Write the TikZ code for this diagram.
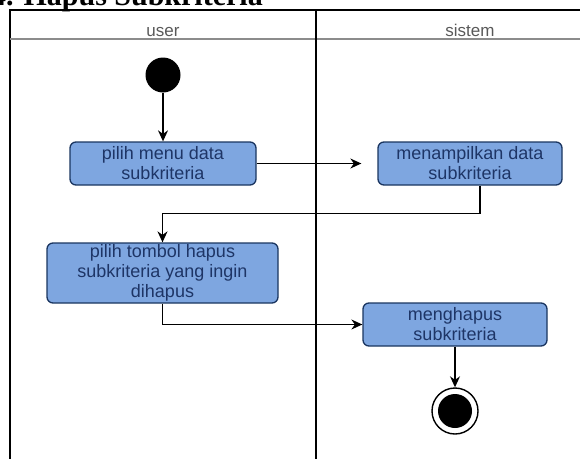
\documentclass[tikz,border=0pt]{standalone}
\usepackage{fontspec}
\setmainfont{Liberation Sans}
\newfontfamily\headfont{Liberation Serif}
\usetikzlibrary{arrows.meta,positioning}

\definecolor{actfill}{HTML}{7EA6E0}
\definecolor{actline}{HTML}{1A3560}
\definecolor{acttext}{HTML}{1E3566}
\definecolor{lanegray}{HTML}{8C8C8C}

\tikzset{
  activity/.style={rectangle, rounded corners=6pt, draw=actline, fill=actfill,
    line width=1.3pt, text=acttext, align=center,
    font=\fontsize{18}{20}\selectfont, inner sep=0pt},
  flow/.style={draw, line width=1.3pt, -{Stealth[length=11pt,width=10pt]}},
  lanelabel/.style={text=black!65, font=\fontsize{17}{20}\selectfont, anchor=base}
}

\begin{document}
\begin{tikzpicture}[x=1pt,y=-1pt]
\useasboundingbox (0,0) rectangle (580,458);

% heading, cut off by the top edge
\node[anchor=base east, inner sep=0pt, font=\headfont\bfseries\fontsize{30}{32}\selectfont] (title) at (263,5) {4. Hapus Subkriteria};

% swimlanes
\draw[line width=1.5pt] (10,462) -- (10,10) -- (592,10);
\draw[lanegray, line width=2pt] (10,39) -- (592,39);
\draw[line width=1.2pt] (316,10) -- (316,462);
\node[lanelabel] (user) at (163,36) {user};
\node[lanelabel] (sistem) at (470,36) {sistem};

% nodes
\node[circle, fill=black, minimum size=35pt, inner sep=0pt] (start) at (163,75) {};
\node[activity, minimum width=186pt, minimum height=43pt] (menu) at (163,163.5) {pilih menu data\\subkriteria};
\node[activity, minimum width=184pt, minimum height=43pt] (tampil) at (470,163.5) {menampilkan data\\subkriteria};
\node[activity, minimum width=231pt, minimum height=60pt] (pilih) at (162.5,273) {pilih tombol hapus\\subkriteria yang ingin\\dihapus};
\node[activity, minimum width=184pt, minimum height=43pt] (hapus) at (455,324.5) {menghapus\\subkriteria};
\node[circle, draw, line width=1.4pt, minimum size=46pt, inner sep=0pt,
  path picture={\fill (path picture bounding box.center) circle (17pt);}] (end) at (455,411) {};

% flows
\draw[flow] (start) -- (menu);
\draw[flow, shorten >=16pt] (menu) -- (tampil);
\draw[flow] ([xshift=10pt]tampil.south) -- ++(0,28) -| (pilih.north);
\draw[flow] (pilih.south) |- (hapus.west);
\draw[flow] (hapus) -- (end);
\end{tikzpicture}
\end{document}
